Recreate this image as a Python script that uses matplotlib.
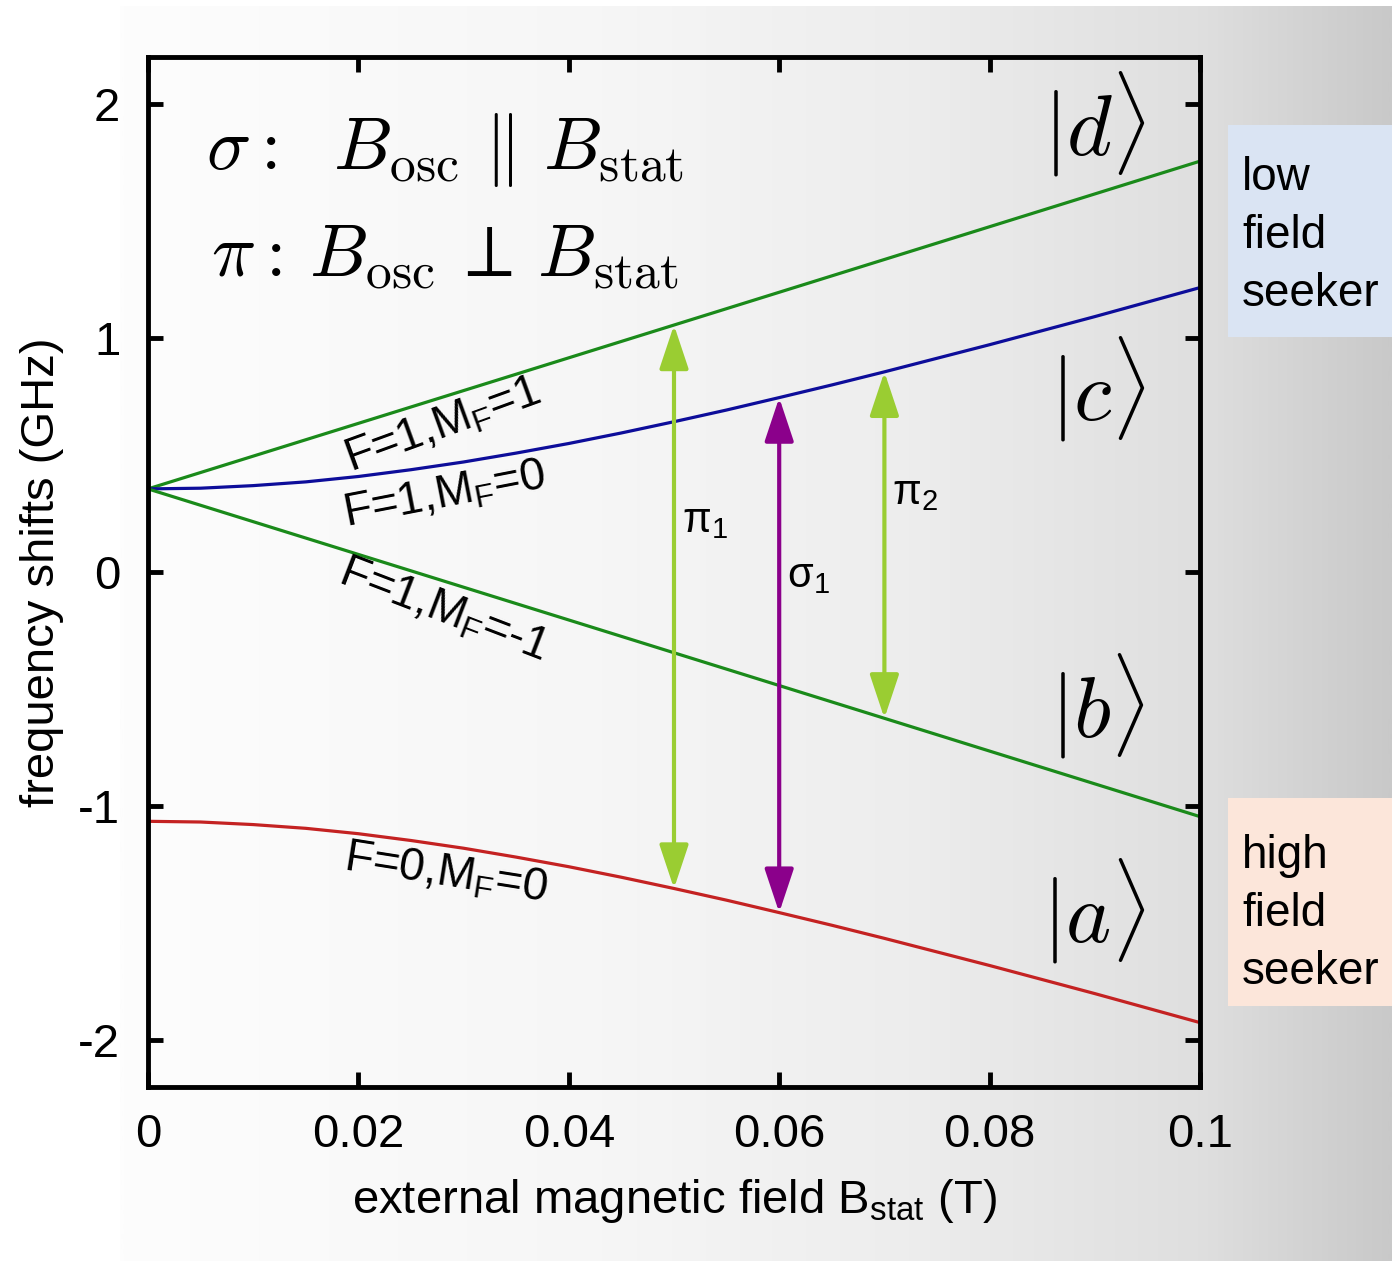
import numpy as np
import matplotlib
matplotlib.use("Agg")
import matplotlib.pyplot as plt
from matplotlib.colors import LinearSegmentedColormap
from matplotlib.patches import Rectangle, FancyArrowPatch

# ---- data: hydrogen ground-state levels vs. static field -----------------
B_stat = [0.000, 0.005, 0.010, 0.015, 0.020, 0.025, 0.030, 0.035, 0.040, 0.045,
          0.050, 0.055, 0.060, 0.065, 0.070, 0.075, 0.080, 0.085, 0.090, 0.095,
          0.100]
level_d = [0.355, 0.425, 0.495, 0.565, 0.635, 0.705, 0.775, 0.845, 0.915, 0.985,
           1.055, 1.125, 1.195, 1.265, 1.335, 1.405, 1.475, 1.545, 1.615, 1.685,
           1.755]
level_c = [0.355, 0.358, 0.369, 0.385, 0.408, 0.437, 0.470, 0.508, 0.549, 0.594,
           0.642, 0.692, 0.745, 0.799, 0.855, 0.913, 0.971, 1.031, 1.091, 1.153,
           1.215]
level_b = [0.355, 0.285, 0.215, 0.145, 0.075, 0.005, -0.065, -0.135, -0.205, -0.275,
           -0.345, -0.415, -0.485, -0.555, -0.625, -0.695, -0.765, -0.835, -0.905,
           -0.975, -1.045]
level_a = [-1.065, -1.068, -1.079, -1.095, -1.118, -1.147, -1.180, -1.218, -1.259,
           -1.304, -1.352, -1.402, -1.455, -1.509, -1.565, -1.623, -1.681, -1.741,
           -1.801, -1.863, -1.925]

# transitions: label, field, upper state, lower state
transition_labels = ["π$_\\mathregular{1}$", "σ$_\\mathregular{1}$", "π$_\\mathregular{2}$"]
transition_B = [0.05, 0.06, 0.07]
transition_upper = ["d", "c", "c"]
transition_lower = ["a", "a", "b"]

xtick_values = [0, 0.02, 0.04, 0.06, 0.08, 0.1]
xtick_labels = ["0", "0.02", "0.04", "0.06", "0.08", "0.1"]
ytick_values = [2, 1, 0, -1, -2]
ytick_labels = ["2", "1", "0", "-1", "-2"]

levels = {"a": level_a, "b": level_b, "c": level_c, "d": level_d}

plt.rcParams["font.family"] = ["Liberation Sans", "DejaVu Sans"]
plt.rcParams["axes.unicode_minus"] = False

W, H = 1392, 1261
fig = plt.figure(figsize=(W / 100, H / 100), dpi=100)
fig.patch.set_facecolor("white")

# grey shading behind the plot, light on the left, darker to the right
bg_left = 120 / W
bg = fig.add_axes([bg_left, 0, 1 - bg_left, 1 - 6 / H], zorder=-10)
shade = LinearSegmentedColormap.from_list(
    "shade",
    [(0.0, "#fdfdfd"), (0.38, "#f6f6f6"), (0.62, "#ededed"),
     (0.85, "#dfdfdf"), (1.0, "#c9c9c9")])
bg.imshow(np.linspace(0, 1, 512)[np.newaxis, :], aspect="auto", cmap=shade,
          extent=(0, 1, 0, 1))
bg.set_axis_off()

ax = fig.add_axes([148 / W, 1 - 1087 / H, (1200 - 148) / W, (1087 - 57) / H])
ax.set_facecolor("none")

ax.plot(B_stat, level_d, color="#1a8a1a", lw=2.3)
ax.plot(B_stat, level_c, color="#0d0d9a", lw=2.3)
ax.plot(B_stat, level_b, color="#1a8a1a", lw=2.3)
ax.plot(B_stat, level_a, color="#c42222", lw=2.3)

arrow_colors = ["#9acd32", "#8b008b", "#9acd32"]
for lab, bx, up, lo, col in zip(transition_labels, transition_B, transition_upper,
                                transition_lower, arrow_colors):
    y_up = np.interp(bx, B_stat, levels[up])
    y_lo = np.interp(bx, B_stat, levels[lo])
    arr = FancyArrowPatch((bx, y_lo), (bx, y_up),
                          arrowstyle="<|-|>,head_length=2.7,head_width=0.9",
                          mutation_scale=10, lw=3, color=col,
                          shrinkA=0, shrinkB=0, zorder=3)
    ax.add_patch(arr)

ax.text(0.0508, 0.218, transition_labels[0], fontsize=30, va="center", ha="left")
ax.text(0.0607, -0.017, transition_labels[1], fontsize=30, va="center", ha="left")
ax.text(0.0707, 0.338, transition_labels[2], fontsize=30, va="center", ha="left")

# state labels along the curves
ax.text(0.0280, 0.624, "F=1,M$_\\mathregular{F}$=1", fontsize=33, rotation=20,
        ha="center", va="center", rotation_mode="anchor")
ax.text(0.0282, 0.329, "F=1,M$_\\mathregular{F}$=0", fontsize=33, rotation=11,
        ha="center", va="center", rotation_mode="anchor")
ax.text(0.0281, -0.165, "F=1,M$_\\mathregular{F}$=-1", fontsize=33, rotation=-21,
        ha="center", va="center", rotation_mode="anchor")
ax.text(0.0283, -1.290, "F=0,M$_\\mathregular{F}$=0", fontsize=33, rotation=-9,
        ha="center", va="center", rotation_mode="anchor")

# ket labels
for name, yk in zip(["d", "c", "b", "a"], [1.915, 0.78, -0.575, -1.45]):
    ax.text(0.0948, yk, r"$|%s\rangle$" % name, fontsize=62, ha="right",
            va="center", math_fontfamily="cm")

ax.text(0.0055, 1.72, r"$\sigma:\;\ B_{\rm osc}\ \Vert\ B_{\rm stat}$", fontsize=53,
        ha="left", va="baseline", math_fontfamily="cm")
ax.text(0.006, 1.265, r"$\pi:\,B_{\rm osc}\,\perp\,B_{\rm stat}$", fontsize=53,
        ha="left", va="baseline", math_fontfamily="cm")

ax.set_xlim(0, 0.1)
ax.set_ylim(-2.2, 2.2)
ax.set_xticks(xtick_values)
ax.set_xticklabels(xtick_labels)
ax.set_yticks(ytick_values)
ax.set_yticklabels(ytick_labels)
ax.tick_params(direction="in", length=11, width=3.5, top=True, right=True,
               labelsize=34)
ax.tick_params(axis="x", pad=19)
ax.tick_params(axis="y", pad=20)
for sp in ax.spines.values():
    sp.set_linewidth(3.5)

ax.set_xlabel("external magnetic field B$_\\mathregular{stat}$ (T)", fontsize=34)
ax.set_ylabel("frequency shifts (GHz)", fontsize=34)
ax.xaxis.set_label_coords(0.5, -0.087)
ax.yaxis.set_label_coords(-0.080, 0.5)

# low / high field seeker tags
fig.add_artist(Rectangle((1228 / W, 1 - 337 / H), (W - 1228) / W, (337 - 125) / H,
                         transform=fig.transFigure, facecolor="#dae4f3",
                         edgecolor="none"))
fig.add_artist(Rectangle((1228 / W, 1 - 1006 / H), (W - 1228) / W, (1006 - 798) / H,
                         transform=fig.transFigure, facecolor="#fce6da",
                         edgecolor="none"))
fig.text(1242 / W, 1 - 236 / H, "low\nfield\nseeker", fontsize=33, ha="left",
         va="center", linespacing=1.4)
fig.text(1242 / W, 1 - 914 / H, "high\nfield\nseeker", fontsize=33, ha="left",
         va="center", linespacing=1.4)

fig.savefig("out.png", dpi=100)
